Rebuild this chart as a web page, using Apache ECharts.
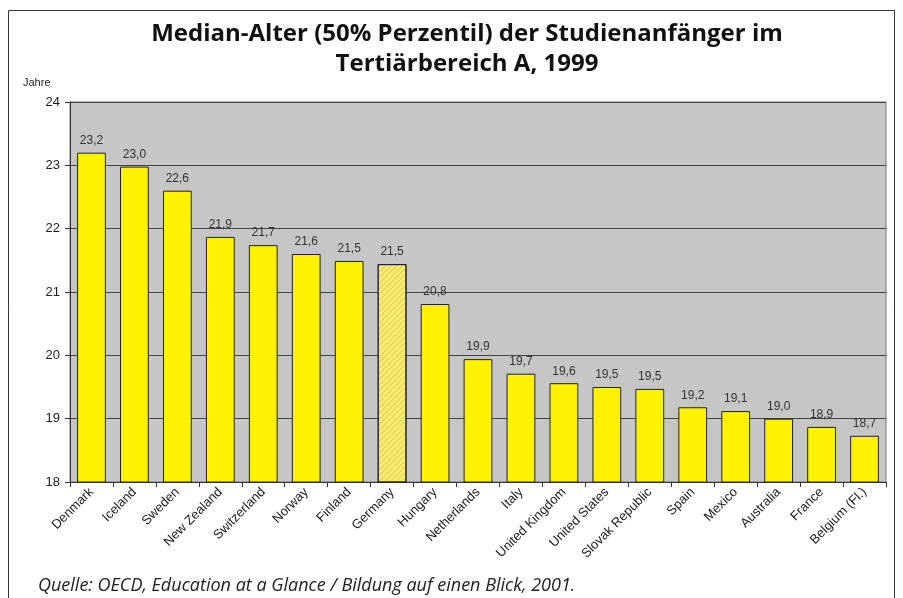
<!DOCTYPE html>
<html>
<head>
<meta charset="utf-8">
<script src="https://cdn.jsdelivr.net/npm/echarts@6/dist/echarts.min.js"></script>
<style>
  html, body { margin: 0; padding: 0; background: #fff; }
  #chart { width: 903px; height: 598px; }
</style>
</head>
<body>
<div id="chart"></div>
<script>
var countries = ['Denmark', 'Iceland', 'Sweden', 'New Zealand', 'Switzerland', 'Norway', 'Finland',
    'Germany', 'Hungary', 'Netherlands', 'Italy', 'United Kingdom', 'United States', 'Slovak Republic',
    'Spain', 'Mexico', 'Australia', 'France', 'Belgium (Fl.)'];
var ages = [23.2, 22.98, 22.6, 21.87, 21.74, 21.6, 21.49, 21.44, 20.81, 19.94, 19.71, 19.56, 19.5,
    19.47, 19.18, 19.12, 19.0, 18.87, 18.73];
var ageLabels = ['23,2', '23,0', '22,6', '21,9', '21,7', '21,6', '21,5', '21,5', '20,8', '19,9', '19,7',
    '19,6', '19,5', '19,5', '19,2', '19,1', '19,0', '18,9', '18,7'];
var yTicks = [18, 19, 20, 21, 22, 23, 24];

var myChart = echarts.init(document.getElementById('chart'));

var barData = ages.map(function (v, i) {
    var item = { value: v };
    if (countries[i] === 'Germany') {
        // hatched bar
        item.itemStyle = {
            color: '#f7ec70',
            decal: {
                symbol: 'rect',
                symbolSize: 1,
                dashArrayX: [1, 0],
                dashArrayY: [1, 2.5],
                rotation: -Math.PI / 4,
                color: 'rgba(200,180,70,0.5)'
            }
        };
    }
    return item;
});

var option = {
    backgroundColor: '#fff',
    animation: false,
    title: {
        text: 'Median-Alter (50% Perzentil) der Studienanfänger im\nTertiärbereich A, 1999',
        left: 462,
        textAlign: 'center',
        top: 14,
        textStyle: {
            fontFamily: 'Open Sans',
            fontWeight: 'bold',
            fontSize: 24,
            lineHeight: 30,
            color: '#111'
        }
    },
    graphic: [
        {
            type: 'rect',
            shape: { x: 8.5, y: 10.5, width: 886, height: 600 },
            style: { fill: 'none', stroke: '#333', lineWidth: 1 },
            silent: true
        },
        {
            type: 'text',
            left: 23,
            top: 77,
            style: { text: 'Jahre', font: '11px Arial, Liberation Sans', fill: '#222' }
        },
        {
            type: 'text',
            left: 38,
            top: 577,
            style: { text: 'Quelle: OECD, Education at a Glance / Bildung auf einen Blick, 2001.',
                font: 'italic 18px Open Sans', fill: '#222' }
        }
    ],
    grid: {
        left: 70,
        right: 17,
        top: 102,
        bottom: 116,
        show: true,
        backgroundColor: '#c6c6c6',
        borderColor: '#777',
        borderWidth: 1
    },
    xAxis: {
        type: 'category',
        data: countries,
        axisLine: { lineStyle: { color: '#333' } },
        axisTick: { show: true, alignWithLabel: false, length: 5, lineStyle: { color: '#333' } },
        axisLabel: {
            rotate: 45,
            interval: 0,
            fontFamily: 'Arial, Liberation Sans',
            fontSize: 13,
            color: '#222',
            margin: 8
        }
    },
    yAxis: {
        type: 'value',
        min: yTicks[0],
        max: yTicks[yTicks.length - 1],
        interval: 1,
        axisLine: { show: true, lineStyle: { color: '#333' } },
        axisTick: { show: true, length: 5, lineStyle: { color: '#333' } },
        axisLabel: { fontFamily: 'Arial, Liberation Sans', fontSize: 13, color: '#222', margin: 10 },
        splitLine: { lineStyle: { color: '#444', width: 1 } }
    },
    series: [
        {
            type: 'bar',
            data: barData,
            barWidth: '67%',
            itemStyle: {
                color: '#fff200',
                borderColor: '#222',
                borderWidth: 1
            },
            label: {
                show: true,
                position: 'top',
                distance: 6,
                fontFamily: 'Arial, Liberation Sans',
                fontSize: 12,
                color: '#333',
                formatter: function (p) { return ageLabels[p.dataIndex]; }
            }
        }
    ]
};

myChart.setOption(option);
</script>
</body>
</html>
